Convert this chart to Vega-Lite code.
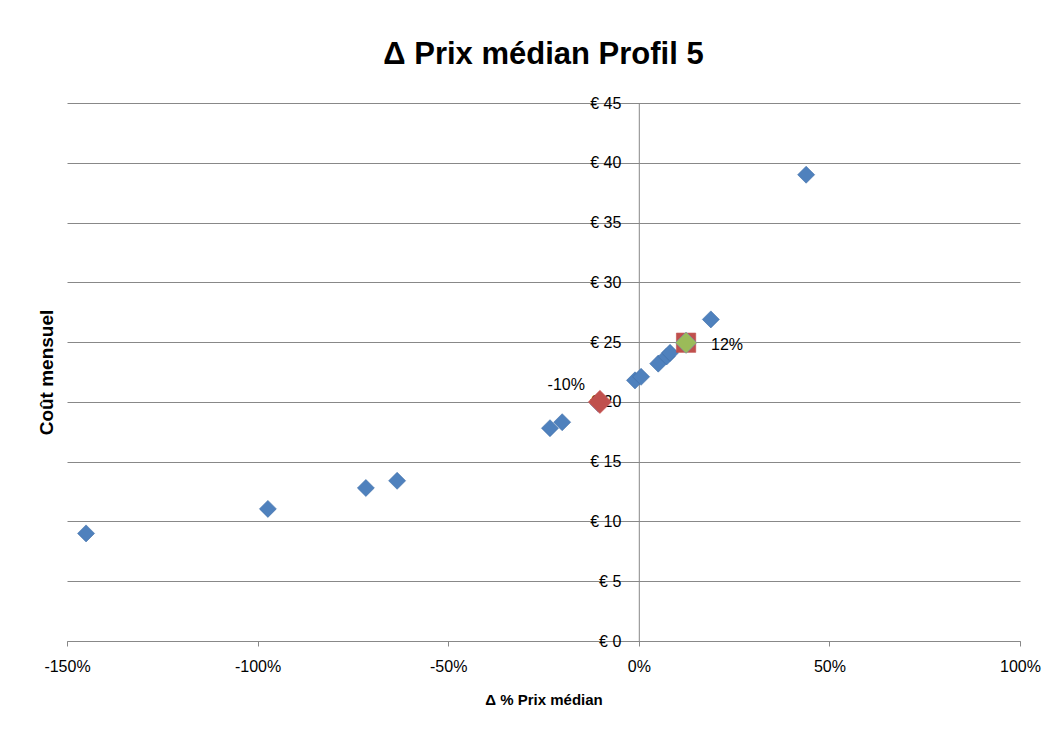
{
  "$schema": "https://vega.github.io/schema/vega-lite/v6.json",
  "width": 953,
  "height": 538,
  "autosize": "none",
  "padding": {"left": 67, "top": 103, "right": 35, "bottom": 93},
  "background": "white",
  "config": {
    "view": {"stroke": null},
    "font": "Liberation Sans, sans-serif"
  },
  "title": {
    "text": "Δ Prix médian Profil 5",
    "fontSize": 31,
    "fontWeight": "bold",
    "font": "Liberation Sans, sans-serif",
    "color": "#000000",
    "offset": 24,
    "anchor": "middle"
  },
  "data": {
    "values": [
      {"x": -145, "y": 9.0, "serie": "Autres", "label": null},
      {"x": -97.3, "y": 11.05, "serie": "Autres", "label": null},
      {"x": -71.6, "y": 12.8, "serie": "Autres", "label": null},
      {"x": -63.4, "y": 13.4, "serie": "Autres", "label": null},
      {"x": -23.3, "y": 17.8, "serie": "Autres", "label": null},
      {"x": -20.1, "y": 18.3, "serie": "Autres", "label": null},
      {"x": -10.6, "y": 19.85, "serie": "Autres", "label": null},
      {"x": -1.0, "y": 21.8, "serie": "Autres", "label": null},
      {"x": 0.6, "y": 22.1, "serie": "Autres", "label": null},
      {"x": 5.1, "y": 23.2, "serie": "Autres", "label": null},
      {"x": 7.3, "y": 23.8, "serie": "Autres", "label": null},
      {"x": 8.2, "y": 24.1, "serie": "Autres", "label": null},
      {"x": 18.9, "y": 26.9, "serie": "Autres", "label": null},
      {"x": 43.9, "y": 39.0, "serie": "Autres", "label": null},
      {"x": 12.4, "y": 24.95, "serie": "Cadre", "label": null},
      {"x": 12.4, "y": 24.95, "serie": "Cible", "label": "12%"},
      {"x": -10.2, "y": 20.0, "serie": "Actuel", "label": "-10%"}
    ]
  },
  "layer": [
    {
      "mark": {"type": "point", "filled": true, "opacity": 1, "strokeWidth": 0.6},
      "encoding": {
        "x": {
          "field": "x",
          "type": "quantitative",
          "scale": {"domain": [-150, 100], "nice": false, "zero": false},
          "axis": {
            "values": [-150, -100, -50, 0, 50, 100],
            "labelExpr": "datum.value + '%'",
            "labelFlush": false,
            "grid": false,
            "domainColor": "#888888",
            "tickColor": "#888888",
            "tickSize": 5,
            "labelFontSize": 16,
            "labelColor": "#000000",
            "labelPadding": 12,
            "title": "Δ % Prix médian",
            "titleFontSize": 15,
            "titleFontWeight": "bold",
            "titleColor": "#000000",
            "titlePadding": 18
          }
        },
        "y": {
          "field": "y",
          "type": "quantitative",
          "scale": {"domain": [0, 45], "nice": false},
          "axis": {
            "values": [0, 5, 10, 15, 20, 25, 30, 35, 40, 45],
            "labelExpr": "'€ ' + datum.value",
            "offset": -571.8,
            "grid": true,
            "gridColor": "#888888",
            "gridWidth": 1,
            "domainColor": "#888888",
            "ticks": false,
            "labelFontSize": 16,
            "labelColor": "#000000",
            "labelPadding": 18,
            "title": "Coût mensuel",
            "titleFontSize": 19,
            "titleFontWeight": "bold",
            "titleColor": "#000000",
            "titleX": -582,
            "titleY": 269,
            "titleAngle": -90,
            "titleAlign": "center",
            "titleBaseline": "bottom"
          }
        },
        "shape": {
          "field": "serie",
          "type": "nominal",
          "scale": {"domain": ["Autres", "Cadre", "Cible", "Actuel"], "range": ["diamond", "square", "diamond", "diamond"]},
          "legend": null
        },
        "color": {
          "field": "serie",
          "type": "nominal",
          "scale": {"domain": ["Autres", "Cadre", "Cible", "Actuel"], "range": ["#4F81BD", "#C0504D", "#9BBB59", "#C0504D"]},
          "legend": null
        },
        "size": {
          "field": "serie",
          "type": "nominal",
          "scale": {"domain": ["Autres", "Cadre", "Cible", "Actuel"], "range": [290, 540, 290, 270]},
          "legend": null
        },
        "stroke": {
          "field": "serie",
          "type": "nominal",
          "scale": {"domain": ["Autres", "Cadre", "Cible", "Actuel"], "range": ["#3F6FA8", "#C0504D", "#6D8FB8", "#D06060"]},
          "legend": null
        }
      }
    },
    {
      "transform": [{"filter": "datum.label === '12%'"}],
      "mark": {"type": "text", "align": "left", "baseline": "middle", "dx": 25, "dy": 2, "fontSize": 16, "color": "#000000"},
      "encoding": {
        "x": {"field": "x", "type": "quantitative"},
        "y": {"field": "y", "type": "quantitative"},
        "text": {"field": "label"}
      }
    },
    {
      "transform": [{"filter": "datum.label === '-10%'"}],
      "mark": {"type": "text", "align": "right", "baseline": "middle", "dx": -15, "dy": -17, "fontSize": 16, "color": "#000000"},
      "encoding": {
        "x": {"field": "x", "type": "quantitative"},
        "y": {"field": "y", "type": "quantitative"},
        "text": {"field": "label"}
      }
    }
  ]
}
